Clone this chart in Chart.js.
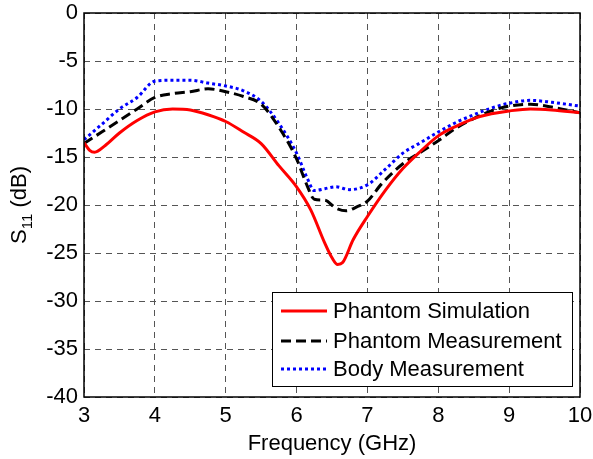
<!DOCTYPE html>
<html>
<head>
<meta charset="utf-8">
<script src="https://cdn.jsdelivr.net/npm/chart.js@4.4.3/dist/chart.umd.min.js"></script>
<style>
  html, body { margin: 0; padding: 0; background: #fff; }
  #wrap { width: 593px; height: 459px; }
</style>
</head>
<body>
<div id="wrap"><canvas id="c" width="593" height="459"></canvas></div>
<script>
const simFreq = [3, 3.08, 3.15, 3.3, 3.5, 3.75, 4, 4.25, 4.5, 4.75, 5, 5.25, 5.5, 5.75, 6, 6.2, 6.4, 6.5, 6.58, 6.65, 6.8, 7, 7.25, 7.5, 7.75, 8, 8.25, 8.5, 8.75, 9, 9.3, 9.6, 10];
const simS11 = [-13.5, -14.3, -14.5, -13.8, -12.5, -11.2, -10.3, -10.0, -10.1, -10.6, -11.3, -12.4, -13.6, -15.9, -18.1, -20.5, -24.0, -25.5, -26.2, -26.0, -23.6, -21.2, -18.5, -16.2, -14.4, -12.8, -11.8, -11.0, -10.5, -10.2, -10.0, -10.1, -10.4];

const phantomFreq = [3, 3.25, 3.5, 3.75, 4, 4.25, 4.5, 4.75, 5, 5.25, 5.5, 5.75, 6, 6.15, 6.25, 6.4, 6.55, 6.7, 6.85, 7, 7.2, 7.5, 7.75, 8, 8.25, 8.5, 8.75, 9, 9.3, 9.6, 10];
const phantomS11 = [-13.6, -12.4, -11.2, -10.0, -8.8, -8.4, -8.2, -7.9, -8.2, -8.7, -9.5, -11.9, -15.2, -18.0, -19.4, -19.5, -20.3, -20.6, -20.2, -19.6, -17.8, -15.7, -14.5, -13.3, -12.0, -11.0, -10.2, -9.7, -9.5, -9.8, -10.4];

const bodyFreq = [3, 3.25, 3.5, 3.75, 4, 4.25, 4.5, 4.75, 5, 5.25, 5.5, 5.75, 6, 6.15, 6.25, 6.4, 6.55, 6.75, 7, 7.25, 7.5, 7.75, 8, 8.25, 8.5, 8.75, 9, 9.3, 9.6, 10];
const bodyS11 = [-13.2, -11.6, -10.0, -8.8, -7.1, -7.0, -7.0, -7.3, -7.6, -8.1, -9.2, -11.5, -14.6, -17.2, -18.5, -18.3, -18.1, -18.4, -17.9, -16.3, -14.6, -13.5, -12.4, -11.4, -10.6, -9.9, -9.4, -9.1, -9.3, -9.7];

const seriesNames = ["Phantom Simulation", "Phantom Measurement", "Body Measurement"];
const xTicks = [3, 4, 5, 6, 7, 8, 9, 10];
const yTicks = [0, -5, -10, -15, -20, -25, -30, -35, -40];

const FONT = "'Liberation Sans', Arial, Helvetica, sans-serif";

function pts(xs, ys) {
  return xs.map((x, i) => ({ x: x, y: ys[i] }));
}

// frame, y title with subscript, legend
const decor = {
  id: "decor",
  afterDraw(chart) {
    const ctx = chart.ctx;
    const a = chart.chartArea;
    ctx.save();
    ctx.strokeStyle = "#000";
    ctx.lineWidth = 1.5;
    ctx.setLineDash([]);
    ctx.strokeRect(a.left, a.top, a.right - a.left, a.bottom - a.top);

    // y title
    ctx.translate(26, (a.top + a.bottom) / 2);
    ctx.rotate(-Math.PI / 2);
    ctx.fillStyle = "#000";
    ctx.textBaseline = "alphabetic";
    const s1 = "S", s2 = "11", s3 = " (dB)";
    ctx.font = "22px " + FONT;
    const w1 = ctx.measureText(s1).width;
    const w3 = ctx.measureText(s3).width;
    ctx.font = "15px " + FONT;
    const w2 = ctx.measureText(s2).width;
    const x0 = -(w1 + w2 + w3) / 2;
    ctx.font = "22px " + FONT;
    ctx.fillText(s1, x0, 0);
    ctx.font = "15px " + FONT;
    ctx.fillText(s2, x0 + w1, 6);
    ctx.font = "22px " + FONT;
    ctx.fillText(s3, x0 + w1 + w2, 0);
    ctx.restore();

    // legend
    ctx.save();
    const bx = 272, by = 292, bw = 300, bh = 94;
    ctx.fillStyle = "#fff";
    ctx.fillRect(bx, by, bw, bh);
    ctx.strokeStyle = "#000";
    ctx.lineWidth = 1;
    ctx.strokeRect(bx + 0.5, by + 0.5, bw, bh);
    const rows = [311, 341, 369];
    chart.data.datasets.forEach((ds, i) => {
      ctx.strokeStyle = ds.borderColor;
      ctx.lineWidth = ds.borderWidth;
      ctx.setLineDash(ds.borderDash || []);
      ctx.beginPath();
      ctx.moveTo(281, rows[i]);
      ctx.lineTo(327, rows[i]);
      ctx.stroke();
      ctx.setLineDash([]);
      ctx.fillStyle = "#000";
      ctx.font = "22px " + FONT;
      ctx.textBaseline = "middle";
      ctx.fillText(seriesNames[i], 333, rows[i] + 1);
    });
    ctx.restore();
  }
};

new Chart(document.getElementById("c"), {
  type: "line",
  data: {
    datasets: [
      { label: seriesNames[0], data: pts(simFreq, simS11), borderColor: "#ff0000", borderWidth: 3, pointRadius: 0, tension: 0.4, cubicInterpolationMode: "monotone" },
      { label: seriesNames[1], data: pts(phantomFreq, phantomS11), borderColor: "#000000", borderWidth: 3, borderDash: [10, 5], pointRadius: 0, tension: 0.4, cubicInterpolationMode: "monotone" },
      { label: seriesNames[2], data: pts(bodyFreq, bodyS11), borderColor: "#0000ff", borderWidth: 3, borderDash: [3, 3], pointRadius: 0, tension: 0.4, cubicInterpolationMode: "monotone" }
    ]
  },
  options: {
    responsive: false,
    animation: false,
    layout: { padding: { left: 0, right: 13, top: 13, bottom: 0 } },
    plugins: { legend: { display: false }, tooltip: { enabled: false } },
    scales: {
      x: {
        type: "linear",
        min: 3, max: 10,
        afterBuildTicks(s) { s.ticks = xTicks.map(v => ({ value: v })); },
        afterFit(s) { s.height = 62; s.paddingLeft = 0; s.paddingRight = 0; },
        grid: { color: "#555", lineWidth: 1, drawTicks: false },
        border: { display: false, dash: [6, 5] },
        ticks: { color: "#000", font: { family: FONT, size: 22 }, padding: 6, maxRotation: 0 },
        title: { display: true, text: "Frequency (GHz)", color: "#000", font: { family: FONT, size: 22 }, padding: { top: 0, bottom: 2 } }
      },
      y: {
        min: -40, max: 0,
        afterBuildTicks(s) { s.ticks = yTicks.map(v => ({ value: v })); },
        afterFit(s) { s.width = 84; s.paddingTop = 0; s.paddingBottom = 0; },
        grid: { color: "#555", lineWidth: 1, drawTicks: false },
        border: { display: false, dash: [6, 5] },
        ticks: { color: "#000", font: { family: FONT, size: 22 }, padding: 6 }
      }
    }
  },
  plugins: [decor]
});
</script>
</body>
</html>
